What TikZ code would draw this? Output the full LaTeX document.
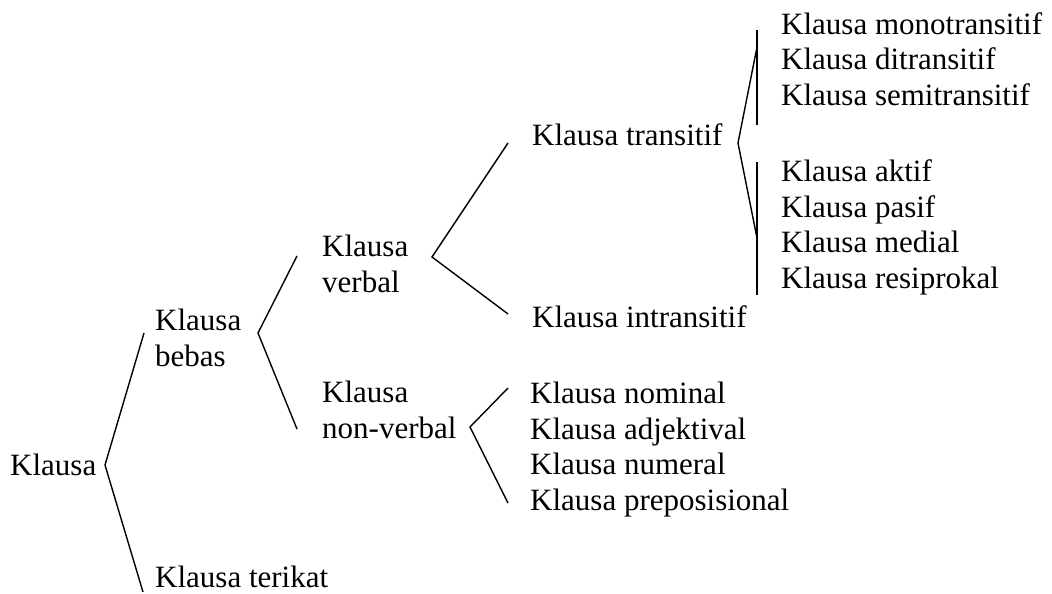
\documentclass[tikz,border=0pt]{standalone}
\usepackage{fontspec}
\setmainfont{Liberation Serif}
\begin{document}
\begin{tikzpicture}[x=1pt, y=-1pt,
  every node/.style={inner sep=0pt, anchor=base west, align=left,
    font=\fontsize{31}{35.5}\selectfont},
  branch/.style={line width=1.4pt, line join=miter}]
\useasboundingbox (0,0) rectangle (1052,594);
% labels (multi-line nodes sit on their last baseline)
\node (klausa) at (10,475) {Klausa};
\node (bebas) at (155,366) {Klausa\\bebas};
\node (terikat) at (155,587) {Klausa terikat};
\node (verbal) at (322,292) {Klausa\\verbal};
\node (nonverbal) at (322,438) {Klausa\\non-verbal};
\node (transitif) at (532,145) {Klausa transitif};
\node (intransitif) at (532,327) {Klausa intransitif};
\node (jenisA) at (781,105) {Klausa monotransitif\\Klausa ditransitif\\Klausa semitransitif};
\node (jenisB) at (781,288) {Klausa aktif\\Klausa pasif\\Klausa medial\\Klausa resiprokal};
\node (jenisC) at (530,510) {Klausa nominal\\Klausa adjektival\\Klausa numeral\\Klausa preposisional};
% branch points
\coordinate (k0) at (105,465);
\coordinate (k1) at (144,333);
\coordinate (k2) at (143,592);
\coordinate (b0) at (258,333);
\coordinate (b1) at (297,256);
\coordinate (b2) at (297,429);
\coordinate (v0) at (432,257);
\coordinate (v1) at (508,143);
\coordinate (v2) at (508,314);
\coordinate (n0) at (470,427);
\coordinate (n1) at (508,388);
\coordinate (n2) at (508,503);
\coordinate (t0) at (738,143);
\coordinate (t1) at (757,47);
\coordinate (t2) at (757,238);
\coordinate (ga) at (757,30);
\coordinate (gb) at (757,125);
\coordinate (gc) at (757,162);
\coordinate (gd) at (757,295);
% lines
\draw[branch] (k1) -- (k0) -- (k2);
\draw[branch] (b1) -- (b0) -- (b2);
\draw[branch] (v1) -- (v0) -- (v2);
\draw[branch] (n1) -- (n0) -- (n2);
\draw[branch] (t1) -- (t0) -- (t2);
\draw[branch] (ga) -- (gb);
\draw[branch] (gc) -- (gd);
\end{tikzpicture}
\end{document}
